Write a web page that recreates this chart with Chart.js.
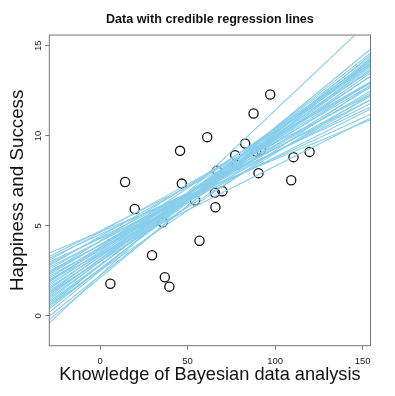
<!DOCTYPE html>
<html>
<head>
<meta charset="utf-8">
<script src="https://cdn.jsdelivr.net/npm/chart.js@4/dist/chart.umd.min.js"></script>
<style>
  body { margin: 0; background: #fff; }
  #grafico { display: block; }
</style>
</head>
<body>
<canvas id="grafico" width="395" height="396"></canvas>
<script>
var conhecimento = [14.3, 45.7, 61.2, 46.7, 97.2, 87.7, 82.9, 77.2, 66.9, 78.1, 89.2, 91.9, 90.5, 110.5, 119.7,
  109.2, 65.6, 69.9, 19.8, 35.8, 54.3, 65.9, 56.8, 29.7, 37.0, 39.6, 5.9];
var felicidade = [7.44, 9.17, 9.93, 7.35, 12.3, 11.24, 9.57, 8.93, 8.07, 8.39, 9.13, 9.22, 7.93, 8.82, 9.11,
  7.54, 6.85, 6.93, 5.94, 5.2, 6.41, 6.04, 4.18, 3.37, 2.15, 1.63, 1.79];

// retas de regressao credíveis (intercepto e inclinacao)
var interceptos = [4.67, 4.53, 4.30, 4.34, 4.14, 4.15, 3.92, 3.95, 3.96, 3.75, 3.82, 3.66, 3.70, 3.52, 3.58,
  3.40, 3.46, 3.28, 3.31, 3.14, 3.17, 3.02, 3.03, 2.84, 2.82, 2.81, 2.62, 2.60, 2.51, 2.24,
  2.12, 2.26, 4.72, 4.41, 3.81, 4.65, 4.17, 3.04, 3.42, 2.53];
var inclinacoes = [0.0403, 0.0458, 0.0447, 0.0496, 0.0496, 0.0534, 0.0490, 0.0534, 0.0572, 0.0534, 0.0594, 0.0572, 0.0621, 0.0594, 0.0649,
  0.0621, 0.0676, 0.0649, 0.0692, 0.0670, 0.0714, 0.0698, 0.0736, 0.0703, 0.0730, 0.0763, 0.0730, 0.0757, 0.0796, 0.0774,
  0.0801, 0.0916, 0.0490, 0.0556, 0.0659, 0.0534, 0.0610, 0.0599, 0.0490, 0.0665];

var xMin = -29, xMax = 154.5;
var yMin = -1.65, yMax = 15.6;
var ticksX = [0, 50, 100, 150];
var ticksY = [0, 5, 10, 15];

const fonte = "'Liberation Sans', Arial, Helvetica, sans-serif";

var datasets = [];

interceptos.forEach((b, i) => {
  var m = inclinacoes[i];
  datasets.push({
    type: 'line',
    data: [{x: xMin, y: b + m * xMin}, {x: xMax, y: b + m * xMax}],
    borderColor: '#87CEEB',
    borderWidth: 1.1,
    pointRadius: 0,
    fill: false,
    order: 0
  });
});

datasets.push({
  type: 'scatter',
  data: conhecimento.map((x, i) => ({x: x, y: felicidade[i]})),
  pointRadius: 4.6,
  pointBorderWidth: 1.3,
  pointBorderColor: '#111',
  pointBackgroundColor: 'rgba(0,0,0,0)',
  order: 1
});

// caixa em volta da area do grafico (estilo R)
const caixa = {
  id: 'caixa',
  afterDraw(chart) {
    const {ctx, chartArea} = chart;
    ctx.save();
    ctx.strokeStyle = '#777';
    ctx.lineWidth = 1;
    ctx.strokeRect(chartArea.left, chartArea.top, chartArea.right - chartArea.left, chartArea.bottom - chartArea.top);
    ctx.restore();
  }
};

new Chart(document.getElementById('grafico'), {
  data: {datasets: datasets},
  options: {
    responsive: false,
    animation: false,
    layout: {padding: {left: 0, right: 24.5, top: 0, bottom: 0}},
    plugins: {
      legend: {display: false},
      tooltip: {enabled: false},
      title: {
        display: true,
        text: 'Data with credible regression lines',
        fullSize: false,
        color: '#111',
        font: {family: fonte, size: 12.6, weight: 'bold'},
        padding: {top: 11.8, bottom: 8.1}
      }
    },
    scales: {
      x: {
        type: 'linear',
        min: xMin,
        max: xMax,
        afterFit: (s) => { s.height = 50.3; },
        afterBuildTicks: (s) => { s.ticks = ticksX.map(v => ({value: v})); },
        grid: {drawOnChartArea: false, drawTicks: true, tickLength: 4, color: '#777'},
        border: {display: false},
        ticks: {
          maxRotation: 0,
          padding: 6,
          color: '#222',
          font: {family: fonte, size: 9.5}
        },
        title: {
          display: true,
          text: 'Knowledge of Bayesian data analysis',
          color: '#111',
          font: {family: fonte, size: 18.2},
          padding: {top: 0, bottom: 10}
        }
      },
      y: {
        type: 'linear',
        min: yMin,
        max: yMax,
        afterFit: (s) => { s.width = 49.3; },
        afterBuildTicks: (s) => { s.ticks = ticksY.map(v => ({value: v})); },
        grid: {drawOnChartArea: false, drawTicks: true, tickLength: 4, color: '#777'},
        border: {display: false},
        ticks: {
          minRotation: 90,
          maxRotation: 90,
          crossAlign: 'center',
          padding: 2,
          color: '#222',
          font: {family: fonte, size: 9.5}
        },
        title: {
          display: true,
          text: 'Happiness and Success',
          color: '#111',
          font: {family: fonte, size: 18.8},
          padding: {top: 7, bottom: 0}
        }
      }
    }
  },
  plugins: [caixa]
});
</script>
</body>
</html>
